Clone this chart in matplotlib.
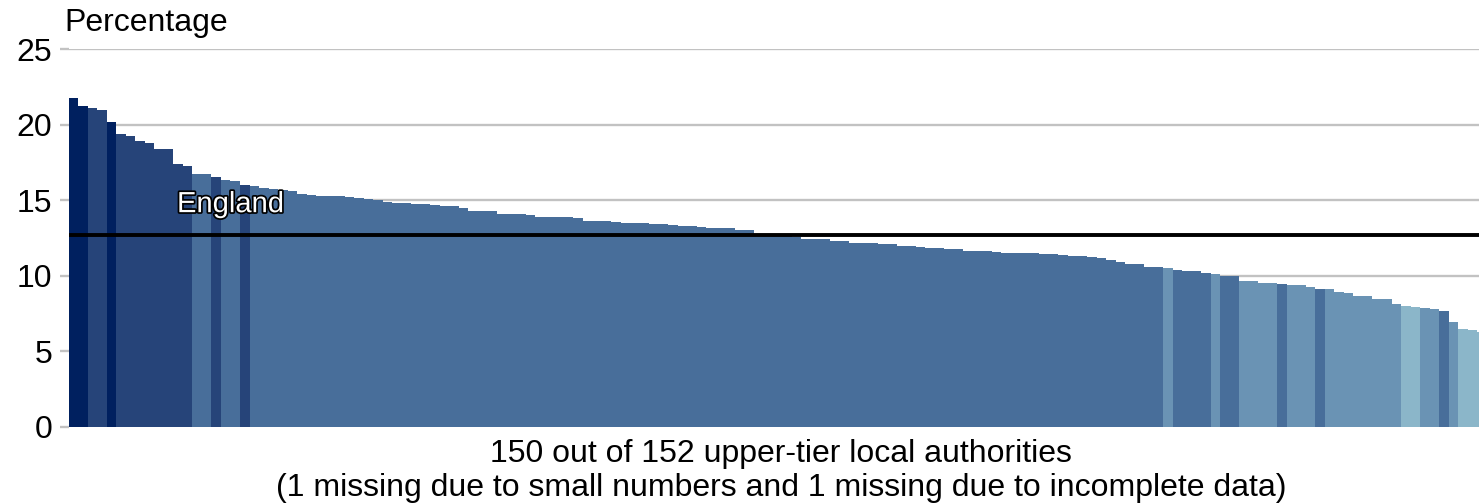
import matplotlib
matplotlib.use('Agg')
import matplotlib.pyplot as plt
import matplotlib.patheffects as pe
import numpy as np

# percentage for each upper-tier local authority, sorted high to low
values = [21.8, 21.25, 21.1, 21.0, 20.2, 19.37, 19.28, 18.93, 18.8, 18.42,
          18.42, 17.39, 17.29, 16.74, 16.72, 16.53, 16.35, 16.3, 16.04, 15.95,
          15.82, 15.77, 15.69, 15.6, 15.42, 15.35, 15.31, 15.29, 15.27, 15.24,
          15.15, 15.1, 15.05, 14.89, 14.85, 14.8, 14.77, 14.74, 14.7, 14.65,
          14.6, 14.47, 14.3, 14.29, 14.27, 14.1, 14.08, 14.07, 14.06, 13.9,
          13.89, 13.88, 13.87, 13.86, 13.66, 13.65, 13.64, 13.6, 13.53, 13.52,
          13.51, 13.42, 13.41, 13.4, 13.29, 13.28, 13.26, 13.19, 13.17, 13.16,
          13.06, 13.04, 12.68, 12.66, 12.64, 12.62, 12.6, 12.46, 12.44, 12.42,
          12.31, 12.3, 12.21, 12.2, 12.18, 12.1, 12.08, 11.97, 11.96, 11.94,
          11.88, 11.86, 11.77, 11.75, 11.65, 11.63, 11.62, 11.6, 11.54, 11.52,
          11.51, 11.5, 11.48, 11.43, 11.36, 11.34, 11.32, 11.25, 11.2, 11.07,
          10.94, 10.82, 10.8, 10.6, 10.58, 10.54, 10.41, 10.33, 10.31, 10.21,
          10.1, 10.0, 9.98, 9.67, 9.65, 9.56, 9.54, 9.46, 9.4, 9.38,
          9.28, 9.14, 9.11, 8.92, 8.9, 8.7, 8.68, 8.46, 8.44, 8.14,
          8.0, 7.97, 7.86, 7.84, 7.66, 6.93, 6.5, 6.45, 6.3, 6.1]

# shade band of each bar, written as runs (band, number of bars)
band_runs = [(0, 2), (1, 2), (0, 1), (1, 8), (2, 2), (1, 1), (2, 2), (1, 1),
             (2, 96), (3, 1), (2, 4), (3, 1), (2, 2), (3, 4), (2, 1), (3, 3),
             (2, 1), (3, 8), (4, 2), (3, 2), (2, 1), (3, 1), (4, 4)]
band_colors = ['#00205F', '#264479', '#486E9A', '#6A93B4', '#8BB6C9']

england = 12.7
yticks = [0, 5, 10, 15, 20, 25]

bands = np.repeat([b for b, n in band_runs], [n for b, n in band_runs])
colors = [band_colors[b] for b in bands]

plt.rcParams['font.family'] = ['Liberation Sans', 'DejaVu Sans']

fig = plt.figure(figsize=(14.79, 5.04), dpi=100)
# axes runs a bit past the right edge, like the source image
ax = fig.add_axes([68.7/1479, 77/504, 1427.5/1479, 377.7/504])

x = np.arange(len(values))
ax.bar(x, values, width=1.0, color=colors, linewidth=0, zorder=2)
ax.axhline(england, color='black', lw=2.8, zorder=3)

ax.text(16.5, 14.75, 'England', fontsize=21, color='white', ha='center', va='center', zorder=4,
        path_effects=[pe.withStroke(linewidth=2.5, foreground='black')])

ax.set_xlim(-0.5, len(values) - 0.5)
ax.set_ylim(0, 25)
ax.set_yticks(yticks)
ax.set_xticks([])
ax.yaxis.grid(True, color='#C2C2C2', lw=1.7, zorder=0)
ax.tick_params(axis='y', length=6.5, width=1.7, color='#C2C2C2', pad=5.5, labelsize=23)
for s in ax.spines.values():
    s.set_visible(False)

fig.text(64/1479, 1 - 23/504, 'Percentage', fontsize=23, ha='left', va='center')
fig.text(781/1479, 1 - 454/504, '150 out of 152 upper-tier local authorities',
         fontsize=23, ha='center', va='center')
fig.text(781/1479, 1 - 488/504, '(1 missing due to small numbers and 1 missing due to incomplete data)',
         fontsize=23, ha='center', va='center')

fig.savefig('out.png', dpi=100)
